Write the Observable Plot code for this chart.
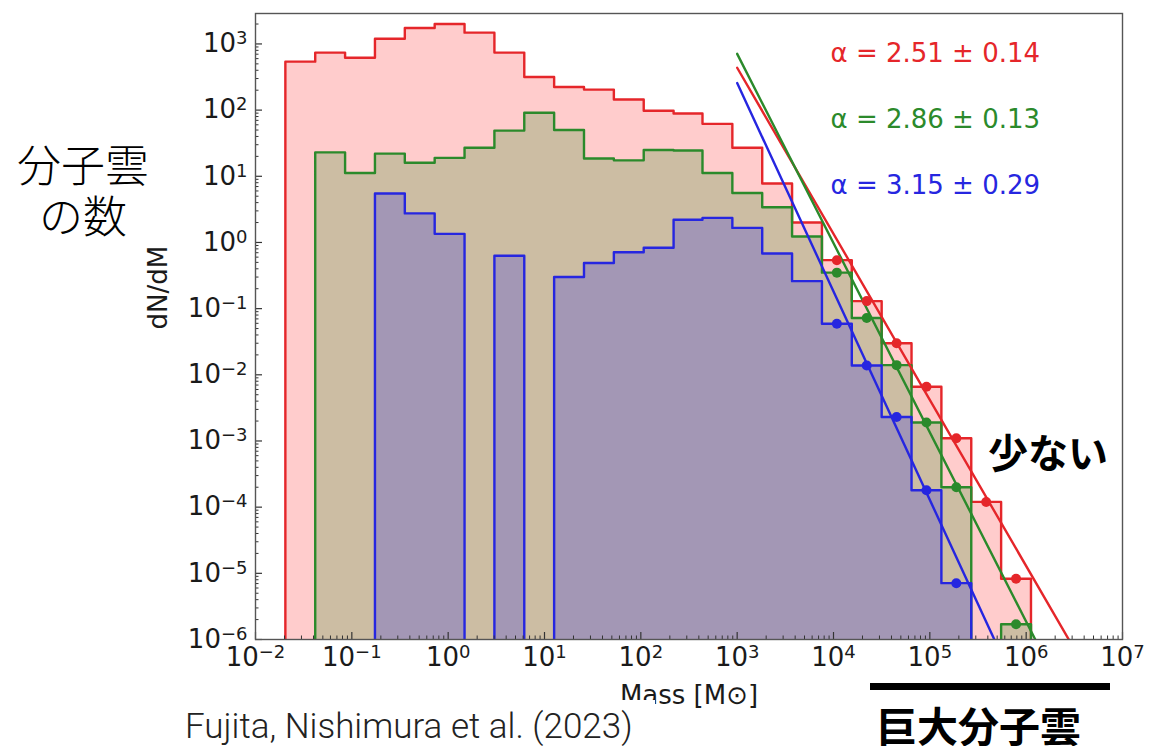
<!DOCTYPE html>
<html><head><meta charset="utf-8">
<script src="https://cdn.jsdelivr.net/npm/d3@7"></script>
<script src="https://cdn.jsdelivr.net/npm/@observablehq/plot@0.6"></script>
<style>
html,body{margin:0;padding:0;background:#fff;}
#wrap{position:relative;width:1150px;height:746px;overflow:hidden;background:#fff;}
#wrap svg{position:absolute;left:0;top:0;}
.ov{position:absolute;white-space:nowrap;color:#000;}
#yq1,#yq2{left:10px;width:146px;text-align:center;font:300 44px/44px "Noto Sans CJK JP Light","Noto Sans CJK JP";}
#yq1{top:141px;}
#yq2{top:192px;}
#few{left:988px;top:430px;font:700 40px/42px "Noto Sans CJK JP";}
#giant{left:876px;top:704px;font:700 41px/41px "Noto Sans CJK JP";}
#bar{left:870px;top:683px;width:240px;height:7px;background:#000;}
#cite{left:180px;top:700px;padding:7px 22px 6px 5px;background:#fff;font:300 35px/40px Roboto;color:#222;}
</style></head>
<body>
<div id="wrap"></div>
<script>
// ---- data ----
const xTickExp = [-2, -1, 0, 1, 2, 3, 4, 5, 6, 7];
const yTickExp = [-6, -5, -4, -3, -2, -1, 0, 1, 2, 3];
// log10 of the histogram bin edges (mass in solar masses)
const binEdgesLog10 = [-1.69, -1.38, -1.07, -0.76, -0.45, -0.14, 0.17, 0.48, 0.79, 1.10, 1.41, 1.72, 2.03,
  2.34, 2.64, 2.95, 3.26, 3.57, 3.88, 4.19, 4.50, 4.81, 5.12, 5.43, 5.74, 6.05];
// dN/dM per bin (null = empty bin)
const redDNdM = [540, 740, 620, 1200, 1740, 2000, 1480, 740, 316, 224, 204, 145, 98, 89, 62, 27, 7.8, 2.0,
  0.54, 0.13, 0.030, 0.0066, 0.0011, 1.2e-4, 8.3e-6];
const greenDNdM = [null, 23, 11.2, 22, 16, 19, 27, 49, 91, 50, 18.6, 17.4, 25, 24.5, 11.2, 5.6, 3.4, 1.23,
  0.35, 0.072, 0.014, 0.0019, 2.0e-4, null, 1.7e-6];
const blueDNdM = [null, null, null, 5.5, 2.75, 1.35, null, 0.63, null, 0.30, 0.49, 0.71, 0.83, 2.2, 2.35, 1.66,
  0.68, 0.26, 0.059, 0.0138, 0.0023, 1.8e-4, 7.1e-6, null, null];
// bins marked with fit points
const redFitBins = [18, 19, 20, 21, 22, 23, 24];
const greenFitBins = [18, 19, 20, 21, 22, 24];
const blueFitBins = [18, 19, 20, 21, 22];
// power-law fits dN/dM = norm * (M / 1e3)^-alpha, drawn from M = 1e3
const fitStartMass = 1e3;
const fitAlpha = [2.51, 2.86, 3.15];
const fitNorm = [437, 708, 257];
const fitLabels = ["α = 2.51 ± 0.14", "α = 2.86 ± 0.13", "α = 3.15 ± 0.29"];

// ---- chart ----
const W = 1150, H = 746, mL = 255, mR = 28, mT = 13, mB = 107;
const frameW = W - mL - mR, frameH = H - mT - mB;
const yMin = 1e-6, yMax = Math.pow(10, 3.46), floor = 1e-9;
const strokes = ["#e5262a", "#2b8a2b", "#2626e0"];
const fills = ["#ff0000", "#008000", "#0000ff"];
const seriesVals = [redDNdM, greenDNdM, blueDNdM];
const seriesBins = [redFitBins, greenFitBins, blueFitBins];

function steps(vals) {
  let first = vals.findIndex(v => v != null);
  let last = vals.length - 1;
  while (vals[last] == null) last--;
  const pts = [{m: 10 ** binEdgesLog10[first], v: floor}];
  for (let i = first; i <= last; i++) pts.push({m: 10 ** binEdgesLog10[i], v: vals[i] == null ? floor : vals[i]});
  pts.push({m: 10 ** binEdgesLog10[last + 1], v: vals[last]});
  pts.push({m: 10 ** binEdgesLog10[last + 1], v: floor});
  return pts;
}

const xMajor = xTickExp.map(e => 10 ** e);
const yMajor = yTickExp.map(e => 10 ** e);
const xMinor = [], yMinor = [];
for (let e = -2; e < 7; e++) for (let k = 2; k <= 9; k++) xMinor.push(k * 10 ** e);
for (let e = -6; e <= 3; e++) for (let k = 2; k <= 9; k++) { const v = k * 10 ** e; if (v <= yMax) yMinor.push(v); }

const supFmt = d => "10^" + String(Math.round(Math.log10(d))).replace("-", "−");

const marks = [];
seriesVals.forEach((vals, i) => marks.push(Plot.areaY(steps(vals), {x: "m", y1: floor, y2: "v", curve: "step-after", fill: fills[i], fillOpacity: 0.2, clip: true})));
seriesVals.forEach((vals, i) => marks.push(Plot.line(steps(vals), {x: "m", y: "v", curve: "step-after", stroke: strokes[i], strokeWidth: 2.4, clip: true})));
fitAlpha.forEach((a, i) => marks.push(Plot.line(
  [{m: fitStartMass, v: fitNorm[i]}, {m: 1e7, v: fitNorm[i] * Math.pow(1e7 / fitStartMass, -a)}],
  {x: "m", y: "v", stroke: strokes[i], strokeWidth: 2.4, clip: true})));
seriesBins.forEach((bins, i) => marks.push(Plot.dot(
  bins.map(b => ({m: 10 ** ((binEdgesLog10[b] + binEdgesLog10[b + 1]) / 2), v: seriesVals[i][b]})),
  {x: "m", y: "v", r: 5, fill: strokes[i], stroke: "none"})));
fitLabels.forEach((t, i) => marks.push(Plot.text([t], {frameAnchor: "top-left", dx: 575, dy: 40 + 66 * i,
  text: d => d, fill: strokes[i], textAnchor: "start", lineAnchor: "middle", fontSize: 26, ariaLabel: "fit-label"})));

marks.push(
  Plot.ruleX(xMinor, {insetTop: frameH - 3.5, stroke: "#333", strokeWidth: 1}),
  Plot.ruleX(xMajor, {insetTop: frameH - 7, stroke: "#333", strokeWidth: 1.2}),
  Plot.ruleY(yMinor, {insetRight: frameW - 3.5, stroke: "#333", strokeWidth: 1}),
  Plot.ruleY(yMajor, {insetRight: frameW - 7, stroke: "#333", strokeWidth: 1.2}),
  Plot.frame({stroke: "#555", strokeWidth: 1.4}),
  Plot.axisX({ticks: xMajor, tickSize: 0, tickPadding: 8, fontSize: 26, tickFormat: supFmt, label: null}),
  Plot.axisY({ticks: yMajor, tickSize: 0, tickPadding: 8, fontSize: 26, tickFormat: supFmt, label: null}),
  Plot.text(["dN/dM"], {frameAnchor: "left", dx: -97, dy: 3, rotate: -90, fontSize: 26, text: d => d, ariaLabel: "y-label"}),
  Plot.text(["Mass [M⊙]"], {frameAnchor: "bottom", dy: 64, fontSize: 26, text: d => d, ariaLabel: "x-label"})
);

const chart = Plot.plot({
  width: W, height: H,
  marginLeft: mL, marginRight: mR, marginTop: mT, marginBottom: mB,
  style: {fontFamily: "DejaVu Sans", background: "white", color: "#1a1a1a", overflow: "visible"},
  x: {type: "log", domain: [1e-2, 1e7], axis: null},
  y: {type: "log", domain: [yMin, yMax], axis: null},
  marks
});

// superscripts for tick labels
const NS = "http://www.w3.org/2000/svg";
chart.querySelectorAll('g[aria-label="x-axis tick label"] text, g[aria-label="y-axis tick label"] text').forEach(t => {
  const m = t.textContent.match(/^10\^(.+)$/);
  if (!m) return;
  t.textContent = "10";
  const ts = document.createElementNS(NS, "tspan");
  ts.setAttribute("dy", "-8");
  ts.setAttribute("font-size", "18");
  ts.textContent = m[1];
  t.appendChild(ts);
});
chart.querySelectorAll('g[aria-label="fit-label"] text').forEach(t => {
  const rest = t.textContent.slice(1);
  t.textContent = "";
  const a = document.createElementNS(NS, "tspan");
  a.setAttribute("font-style", "italic");
  a.setAttribute("font-family", "DejaVu Serif");
  a.textContent = "α";
  t.appendChild(a);
  t.appendChild(document.createTextNode(rest));
});
chart.querySelectorAll('g[aria-label="x-label"] text').forEach(t => {
  t.textContent = "Mass [M";
  const s = document.createElementNS(NS, "tspan");
  s.setAttribute("font-size", "17"); s.setAttribute("dy", "6"); s.textContent = "⊙";
  const e = document.createElementNS(NS, "tspan");
  e.setAttribute("dy", "-6"); e.textContent = "]";
  t.appendChild(s); t.appendChild(e);
});

const wrap = document.getElementById("wrap");
wrap.appendChild(chart);
const add = (id, html) => { const d = document.createElement("div"); d.className = "ov"; d.id = id; d.innerHTML = html; wrap.appendChild(d); };
add("yq1", "分子雲");
add("yq2", "の数");
add("few", "少ない");
add("bar", "");
add("giant", "巨大分子雲");
add("cite", "Fujita, Nishimura et al. (2023)");
</script>
</body></html>
